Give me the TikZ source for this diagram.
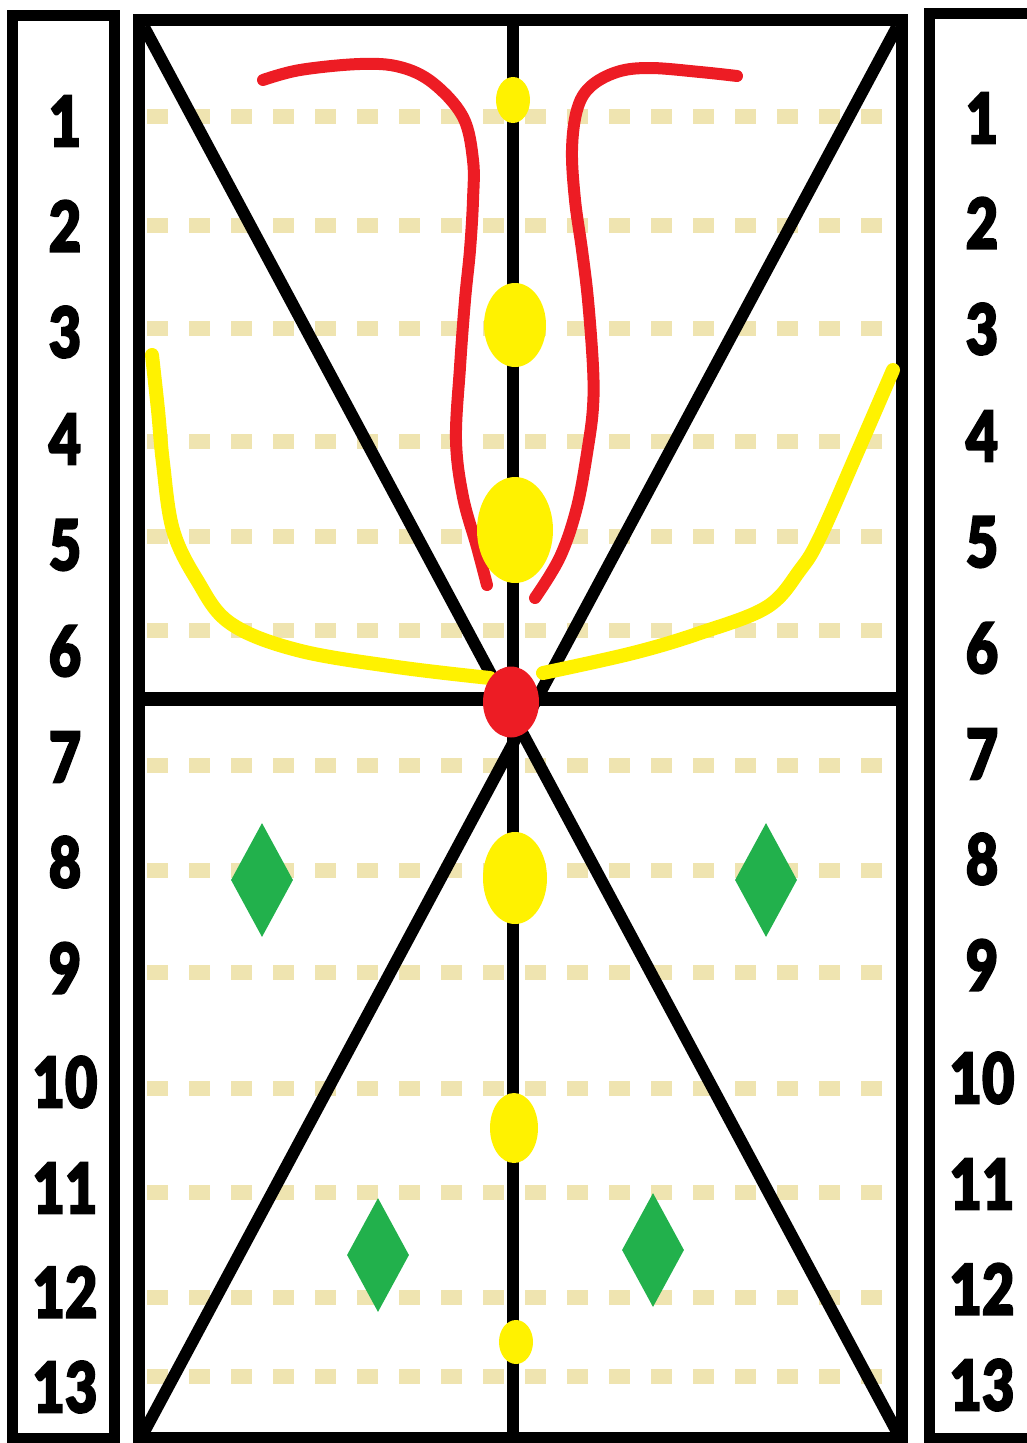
\documentclass[tikz,border=0pt]{standalone}
\usepackage{fontspec}
\usepackage{graphicx}
\setmainfont{Liberation Sans}
\IfFontExistsTF{Lato Black}{\newfontfamily\numfont{Lato Black}[FakeBold=2.5]}{\newfontfamily\numfont{Liberation Sans}[FakeBold=3]}
\usetikzlibrary{shapes.geometric}

\definecolor{tanline}{HTML}{EFE4B0}
\definecolor{paintyellow}{HTML}{FFF200}
\definecolor{paintred}{HTML}{ED1C24}
\definecolor{paintgreen}{HTML}{22B14C}

\begin{document}
\begin{tikzpicture}[
    x=1pt, y=-1pt,
    frame/.style={draw=black, line width=12pt},
    guide/.style={draw=tanline, line width=15pt, dash pattern=on 21pt off 21pt},
    dot/.style={ellipse, fill=paintyellow, inner sep=0pt},
    gem/.style={diamond, fill=paintgreen, inner sep=0pt, minimum width=62pt, minimum height=114pt},
    stroke/.style={line width=12pt, line cap=round, line join=round},
    num/.style={font=\numfont\fontsize{70}{70}\selectfont, inner sep=0pt}
]
\useasboundingbox (0,0) rectangle (1027,1443);

% dotted row guides
\foreach \gy in {116,225,328,441,536,630,765,870,972,1088,1192,1297,1376}
    \draw[guide] (147,\gy) -- (890,\gy);

% side columns and main frame
\draw[frame, line width=11pt] (12,15) rectangle (114,1438);
\draw[frame, line width=11pt] (929,13) rectangle (1034,1438);
\draw[frame] (139,20) rectangle (902,1438);

\coordinate (tl) at (144,27);
\coordinate (tr) at (897,27);
\coordinate (bl) at (144,1432);
\coordinate (br) at (897,1432);
\coordinate (top) at (513,20);
\coordinate (bot) at (513,1438);
\coordinate (mid l) at (139,699);
\coordinate (mid r) at (902,699);

\draw[frame, line width=14pt] (mid l) -- (mid r);
\draw[frame] (top) -- (bot);
\draw[frame] (tl) -- (br);
\draw[frame] (tr) -- (bl);

% red curves
\draw[stroke, paintred] plot[smooth, tension=0.6] coordinates {(263,80) (300,70) (360,64) (400,67) (433,83) (463,117) (473,160) (473,200) (470,250) (465,300) (460,367) (456,440) (463,497) (477,547) (487,585)};
\draw[stroke, paintred] plot[smooth, tension=0.6] coordinates {(737,76) (700,72) (650,68) (617,72) (590,87) (577,110) (572,150) (575,200) (582,250) (588,300) (593,367) (593,407) (588,447) (577,507) (560,557) (535,598)};

% yellow curves
\draw[stroke, paintyellow, line width=14pt] plot[smooth, tension=0.6] coordinates {(152,355) (158,410) (163,463) (173,530) (197,580) (230,623) (297,650) (397,667) (490,678)};
\draw[stroke, paintyellow, line width=14pt] plot[smooth, tension=0.6] coordinates {(893,370) (857,453) (820,537) (800,570) (767,607) (700,633) (633,653) (543,673)};

% yellow dots on the centre line
\node[dot, minimum width=34pt, minimum height=46pt] (d1) at (513,100) {};
\node[dot, minimum width=62pt, minimum height=84pt] (d2) at (515,325) {};
\node[dot, minimum width=76pt, minimum height=106pt] (d3) at (515,530) {};
\node[dot, minimum width=64pt, minimum height=92pt] (d4) at (515,878) {};
\node[dot, minimum width=48pt, minimum height=70pt] (d5) at (514,1128) {};
\node[dot, minimum width=34pt, minimum height=44pt] (d6) at (516,1342) {};

\node[ellipse, fill=paintred, inner sep=0pt, minimum width=56pt, minimum height=71pt] (hub) at (511,702) {};

% green diamonds
\node[gem] (g1) at (262,880) {};
\node[gem] (g2) at (766,880) {};
\node[gem] (g3) at (378,1255) {};
\node[gem] (g4) at (653,1250) {};

% row numbers
\foreach \n/\yl/\yr in {1/121/118, 2/226/223, 3/332/329, 4/439/436, 5/545/542, 6/651/648, 7/757/754,
    8/862/859, 9/968/965, 10/1082/1078, 11/1188/1184, 12/1292/1289, 13/1387/1385} {
    \node[num] (l\n) at (65,\yl) {\scalebox{0.8}[1]{\n}};
    \node[num] (r\n) at (982,\yr) {\scalebox{0.8}[1]{\n}};
}

\end{tikzpicture}
\end{document}
